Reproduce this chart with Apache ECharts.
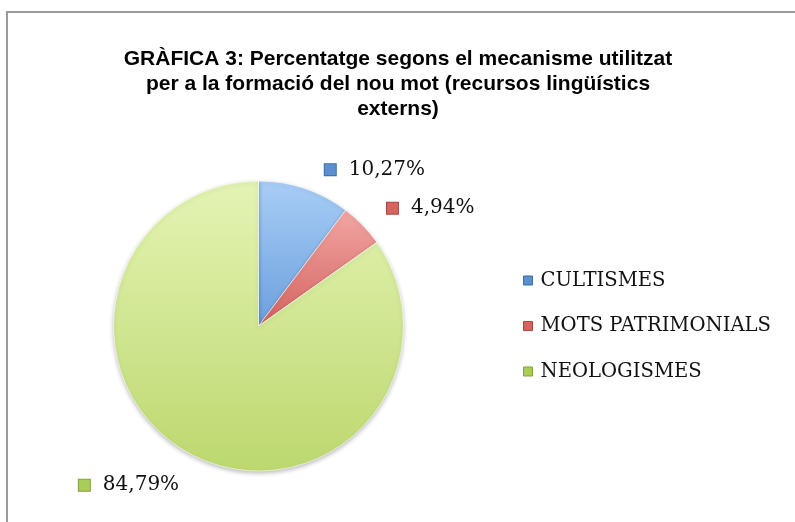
<!DOCTYPE html>
<html>
<head>
<meta charset="utf-8">
<script src="https://cdn.jsdelivr.net/npm/echarts@6/dist/echarts.min.js"></script>
<style>
html,body{margin:0;padding:0;background:#fff;}
#chart{width:795px;height:522px;}
</style>
</head>
<body>
<div id="chart"></div>
<script>
// ---- data ----
const titleText = 'GRÀFICA 3: Percentatge segons el mecanisme utilitzat\nper a la formació del nou mot (recursos lingüístics\nexterns)';
const categories = ['CULTISMES', 'MOTS PATRIMONIALS', 'NEOLOGISMES'];
const values = [10.27, 4.94, 84.79];
const valueLabels = ['10,27%', '4,94%', '84,79%'];

// ---- styles ----
const topColors = ['#a9cef7', '#f2a7a4', '#e4f4b4'];
const bottomColors = ['#6b9fdc', '#d4625f', '#bcd86e'];
const markerColors = ['#5b8fd0', '#d9625f', '#a9cc5a'];
const markerBorders = ['#3d6ea8', '#a84541', '#80a33c'];
const lineLen = [[23, 11], [27, 3], [32, 0]];
const labelShift = [[-3, 3], [-3, 2], [7, 2]];
const serif = '"DejaVu Serif", "Liberation Serif", serif';

const chart = echarts.init(document.getElementById('chart'), null, {renderer: 'canvas'});

const data = categories.map((name, i) => ({
  name: name,
  value: values[i],
  itemStyle: {
    color: new echarts.graphic.LinearGradient(0, 0, 0, 1, [
      {offset: 0, color: topColors[i]},
      {offset: 1, color: bottomColors[i]}
    ])
  },
  label: {
    formatter: '{s' + i + '|}{g|}{t|' + valueLabels[i] + '}'
  },
  labelLine: {length: lineLen[i][0], length2: lineLen[i][1]}
}));

const rich = {
  t: {fontFamily: serif, fontSize: 20, color: '#111'},
  g: {width: 13, height: 10}
};
markerColors.forEach((c, i) => {
  rich['s' + i] = {width: 11, height: 11, backgroundColor: c, borderColor: markerBorders[i], borderWidth: 1};
});

chart.setOption({
  animation: false,
  backgroundColor: '#fff',
  graphic: [{
    type: 'rect',
    shape: {x: 7, y: 12, width: 820, height: 540},
    style: {fill: 'none', stroke: '#9a9a9a', lineWidth: 2},
    silent: true
  }],
  title: {
    text: titleText,
    left: 393,
    top: 42,
    textAlign: 'center',
    textStyle: {
      fontFamily: '"Liberation Sans", Arial, sans-serif',
      fontWeight: 'bold',
      fontSize: 21,
      lineHeight: 25,
      color: '#000'
    }
  },
  legend: {
    orient: 'vertical',
    left: 523,
    top: 270.5,
    padding: 0,
    itemWidth: 9,
    itemHeight: 9,
    itemGap: 25.5,
    icon: 'rect',
    data: categories.map((n, i) => ({name: n, itemStyle: {color: markerColors[i], borderColor: markerBorders[i], borderWidth: 1}})),
    textStyle: {fontFamily: serif, fontSize: 19.6, lineHeight: 20, color: '#111', padding: [0, 0, 0, 3]}
  },
  series: [{
    type: 'pie',
    center: [258.5, 326],
    radius: [0, 145],
    startAngle: 90,
    clockwise: true,
    avoidLabelOverlap: false,
    itemStyle: {
      borderColor: 'rgba(255,255,255,0.6)',
      borderWidth: 1,
      shadowBlur: 4,
      shadowOffsetY: 2,
      shadowColor: 'rgba(0,0,0,0.25)'
    },
    label: {
      show: true,
      position: 'outside',
      alignTo: 'none',
      rich: rich
    },
    labelLayout: function (p) {
      return {dx: labelShift[p.dataIndex][0], dy: labelShift[p.dataIndex][1]};
    },
    labelLine: {show: false},
    emphasis: {disabled: true},
    data: data
  }]
});
</script>
</body>
</html>
